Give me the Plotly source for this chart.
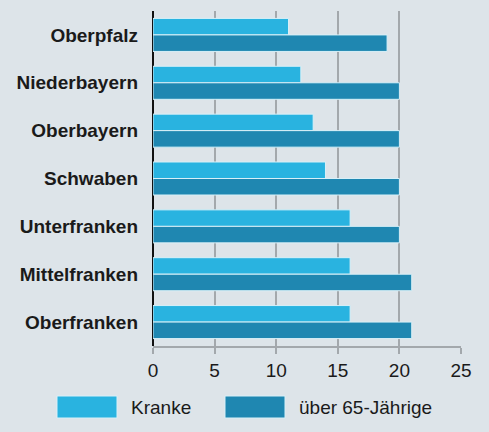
import plotly.graph_objects as go

regions = ["Oberpfalz", "Niederbayern", "Oberbayern", "Schwaben",
           "Unterfranken", "Mittelfranken", "Oberfranken"]
kranke = [11, 12, 13, 14, 16, 16, 16]
ueber65 = [19, 20, 20, 20, 20, 21, 21]
x_ticks = [0, 5, 10, 15, 20, 25]
series_names = ["Kranke", "über 65-Jährige"]

LIGHT = "#29b3e0"
DARK = "#1f87b1"
BG = "#dde4e9"
FONT = "Liberation Sans, Arial, sans-serif"

W, H = 489, 432
ML, MR, MT, MB = 153, 28, 11, 86
PW, PH = W - ML - MR, H - MT - MB


def px(x):
    return (x - ML) / PW


def py(y):
    return (H - MB - y) / PH


fig = go.Figure()
for name, vals, col in [(series_names[0], kranke, LIGHT), (series_names[1], ueber65, DARK)]:
    fig.add_trace(go.Bar(
        y=regions, x=vals, orientation="h", name=name,
        marker=dict(color=col, line=dict(color="#d8f0f8", width=1)),
        showlegend=False,
    ))

# legend drawn by hand with large swatches
for (x0, x1, tx), name, col in zip([(57, 117, 129), (225, 285, 297)], series_names, [LIGHT, DARK]):
    fig.add_shape(type="rect", xref="paper", yref="paper",
                  x0=px(x0), x1=px(x1), y0=py(418), y1=py(396),
                  fillcolor=col, line=dict(color="#d8f0f8", width=1))
    fig.add_annotation(xref="paper", yref="paper", x=px(tx), y=py(407),
                       text=name, showarrow=False, xanchor="left", yanchor="middle",
                       font=dict(family=FONT, size=19, color="#1a1a1a"))

fig.update_layout(
    width=W, height=H,
    margin=dict(l=ML, r=MR, t=MT, b=MB, autoexpand=False),
    paper_bgcolor=BG, plot_bgcolor=BG,
    barmode="group", bargap=0.31, bargroupgap=0.0,
    font=dict(family=FONT, size=19, color="#1a1a1a"),
    xaxis=dict(
        range=[0, 25], tickvals=x_ticks, showgrid=True, gridcolor="#a3a8ac", gridwidth=1.5,
        zeroline=True, zerolinecolor="#111111", zerolinewidth=2,
        showline=True, linecolor="#a3a8ac", linewidth=1.5,
        ticks="outside", ticklen=6, tickcolor="#a3a8ac", tickwidth=1.5,
        tickfont=dict(family=FONT, size=19, color="#1a1a1a"),
        fixedrange=True, automargin=False,
    ),
    yaxis=dict(
        autorange="reversed", showgrid=False, zeroline=False, showline=False,
        ticks="", ticklabelstandoff=14,
        tickfont=dict(family=FONT, size=19, color="#1a1a1a", weight="bold"),
        fixedrange=True, automargin=False,
    ),
)

# page has a default 8px body margin; remove it so the chart fills the window
fig.write_html("out.html", config={"displayModeBar": False},
               post_script="document.body.style.margin='0';")
